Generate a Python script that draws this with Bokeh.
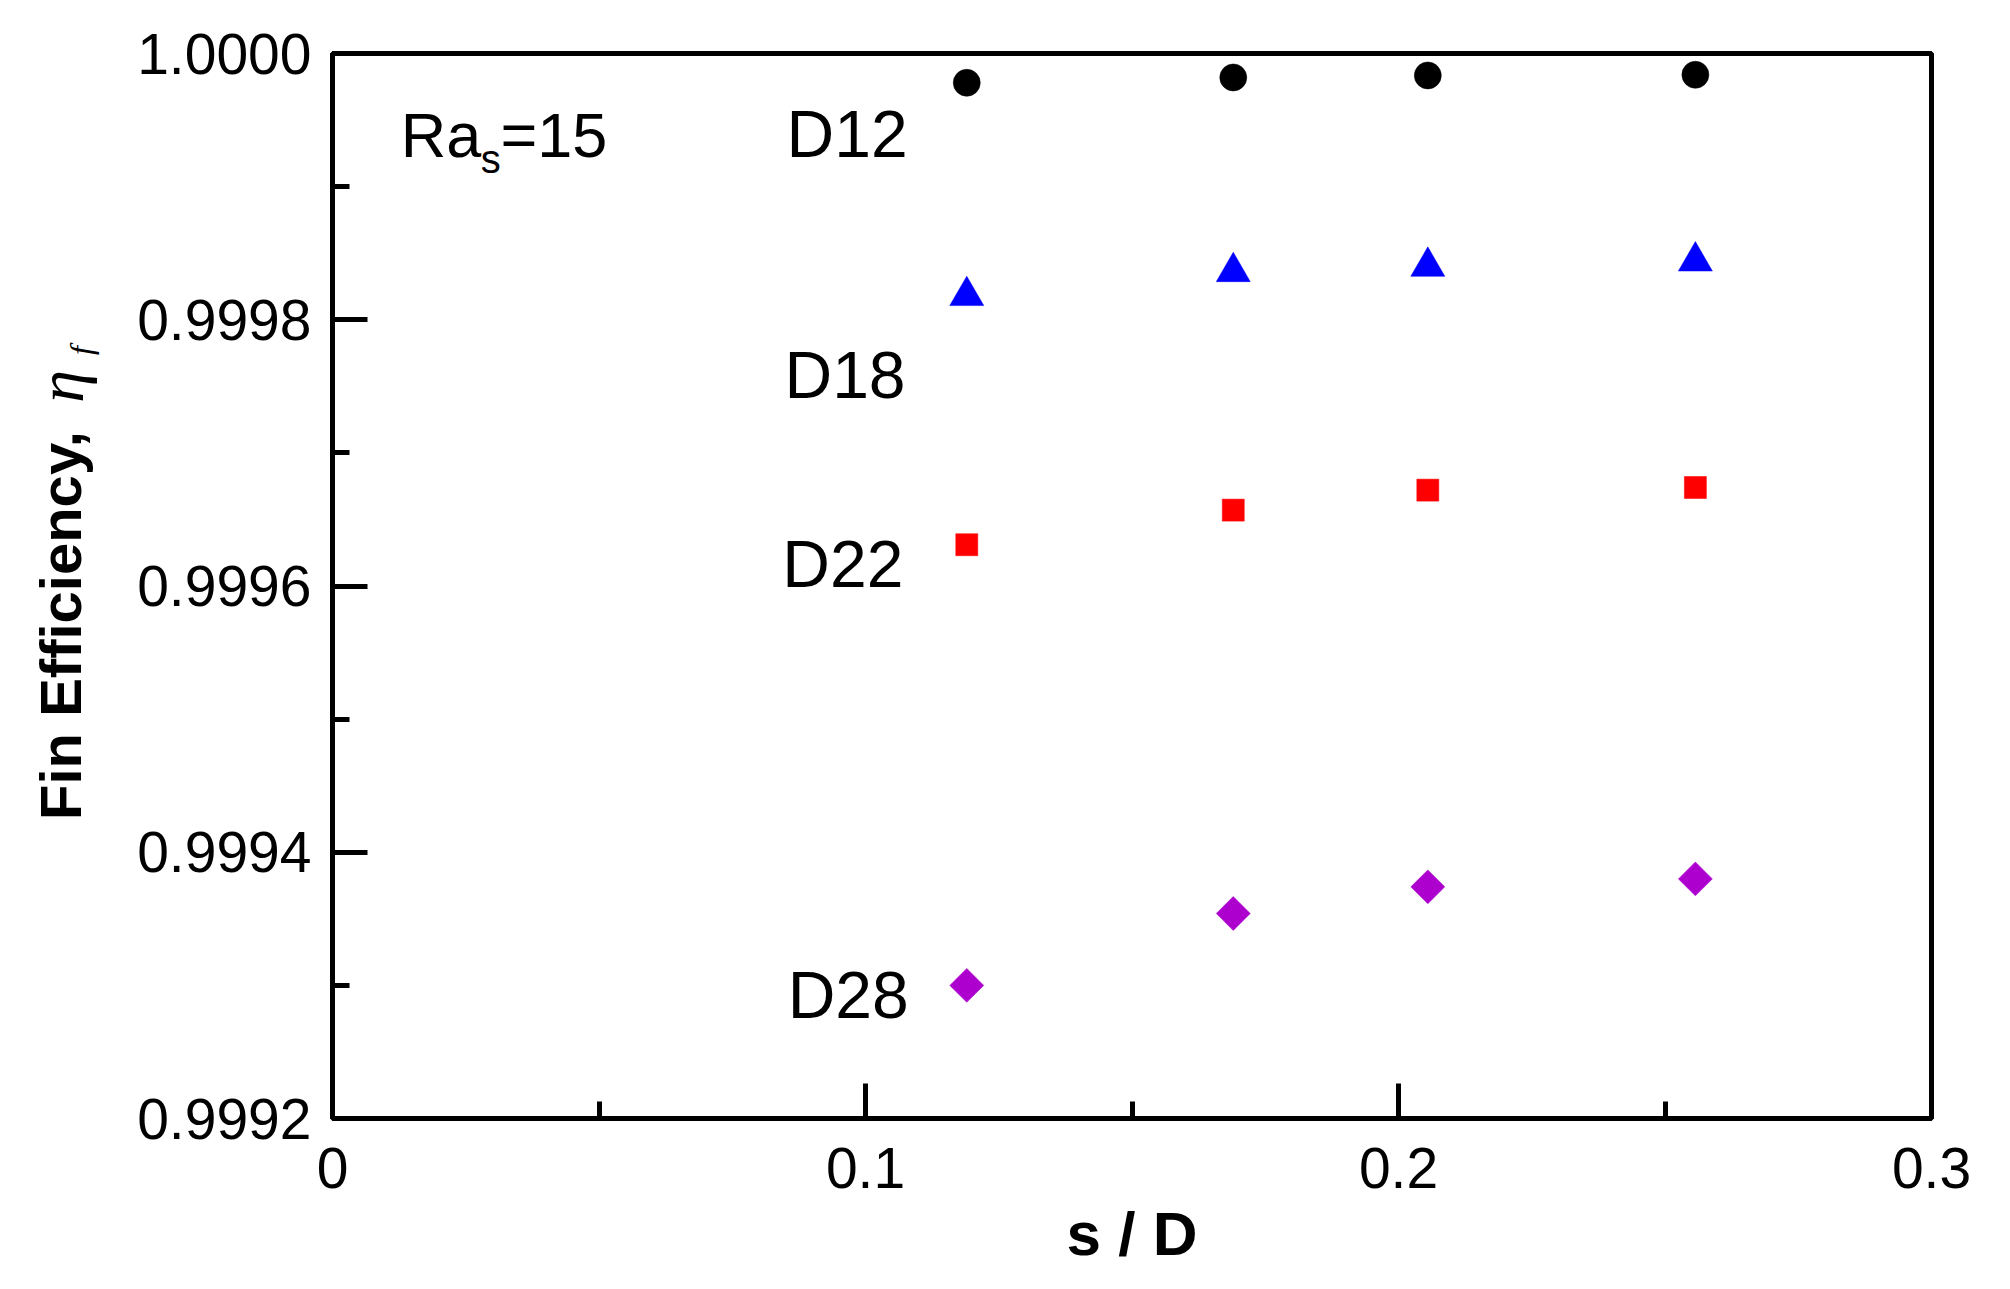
import math
from bokeh.plotting import figure
from bokeh.layouts import row
from bokeh.models import FixedTicker, Range1d
from bokeh.core.properties import value
from bokeh.embed import file_html
from bokeh.resources import INLINE

# ---- data ----
s_over_D = [0.119, 0.169, 0.2055, 0.2557]
series_names = ["D12", "D18", "D22", "D28"]
eta_D12 = [0.999978, 0.999982, 0.9999835, 0.999984]
eta_D18 = [0.999818, 0.999836, 0.999840, 0.999844]
eta_D22 = [0.999631, 0.999657, 0.999672, 0.999674]
eta_D28 = [0.999300, 0.999354, 0.999374, 0.999380]
x_ticks = [0.0, 0.1, 0.2, 0.3]
x_tick_labels = ["0", "0.1", "0.2", "0.3"]
y_ticks = [0.9992, 0.9994, 0.9996, 0.9998, 1.0]
y_tick_labels = ["0.9992", "0.9994", "0.9996", "0.9998", "1.0000"]
annotation_text = ["Ra", "s", "=15"]
x_title = "s / D"
y_title = ["Fin Efficiency,", "\u03b7", "f"]

SANS = "'Liberation Sans', Arial, Helvetica, sans-serif"
SERIF = "'Liberation Serif', 'Times New Roman', serif"

TITLE_W = 110
TOTAL_H = 1281
FRAME_TOP = 53
FRAME_H = 1065

# ---- main chart ----
p = figure(frame_width=1599, frame_height=FRAME_H,
           x_range=Range1d(x_ticks[0], x_ticks[-1]),
           y_range=Range1d(y_ticks[0], y_ticks[-1]),
           output_backend="svg", toolbar_location=None,
           min_border_left=332 - TITLE_W, min_border_top=FRAME_TOP,
           min_border_right=60, min_border_bottom=TOTAL_H - FRAME_TOP - FRAME_H,
           background_fill_color="white", border_fill_color="white")

p.xgrid.visible = False
p.ygrid.visible = False
p.outline_line_color = "black"
p.outline_line_width = 5
p.outline_line_alpha = 1.0

x_minor = [(a + b) / 2 for a, b in zip(x_ticks, x_ticks[1:])]
y_minor = [(a + b) / 2 for a, b in zip(y_ticks, y_ticks[1:])]
p.xaxis.ticker = FixedTicker(ticks=x_ticks, minor_ticks=x_minor)
p.yaxis.ticker = FixedTicker(ticks=y_ticks, minor_ticks=y_minor)
p.xaxis.major_label_overrides = dict(zip(x_ticks, x_tick_labels))
p.yaxis.major_label_overrides = dict(zip(y_ticks, y_tick_labels))

for ax in (p.xaxis, p.yaxis):
    ax.axis_line_width = 5
    ax.axis_line_color = "black"
    ax.major_tick_in = 35
    ax.major_tick_out = 0
    ax.minor_tick_in = 17
    ax.minor_tick_out = 0
    ax.major_tick_line_width = 5
    ax.minor_tick_line_width = 5
    ax.major_tick_line_color = "black"
    ax.minor_tick_line_color = "black"
    ax.major_label_text_font = SANS
    ax.major_label_text_font_size = "57px"
    ax.major_label_text_color = "black"

p.xaxis.major_label_standoff = 29
p.yaxis.major_label_standoff = 21

p.xaxis.axis_label = x_title
p.xaxis.axis_label_text_font = SANS
p.xaxis.axis_label_text_font_style = "bold"
p.xaxis.axis_label_text_font_size = "62px"
p.xaxis.axis_label_text_color = "black"
p.xaxis.axis_label_standoff = 8

# ---- markers ----
p.scatter(s_over_D, eta_D12, marker="circle", size=27,
          fill_color="black", line_color="black", line_width=0.5)
p.scatter(s_over_D, eta_D18, marker="triangle", size=34,
          fill_color="#0000ff", line_color="#0000ff", line_width=0.5)
p.scatter(s_over_D, eta_D22, marker="square", size=22,
          fill_color="#ff0000", line_color="#ff0000", line_width=0.5)
p.scatter(s_over_D, eta_D28, marker="square", size=24, angle=math.pi / 4,
          fill_color="#ad00cf", line_color="#ad00cf", line_width=0.5)

# ---- series labels (text glyphs inside the frame) ----
p.text(x=[0.0852, 0.0848, 0.0844, 0.0854],
       y=[0.9999395, 0.9997585, 0.9996165, 0.999293],
       text=series_names, text_font=value(SANS), text_font_size="66px",
       text_color="black", text_align="left", text_baseline="alphabetic")

# ---- Ra_s = 15 ----
p.text(x=[0.0128], y=[0.999939], text=[annotation_text[0]], text_font=value(SANS),
       text_font_size="63px", text_color="black", text_align="left", text_baseline="alphabetic")
p.text(x=[0.0278], y=[0.999921], text=[annotation_text[1]], text_font=value(SANS),
       text_font_size="40px", text_color="black", text_align="left", text_baseline="alphabetic")
p.text(x=[0.0315], y=[0.999939], text=[annotation_text[2]], text_font=value(SANS),
       text_font_size="63px", text_color="black", text_align="left", text_baseline="alphabetic")

# ---- y-axis title strip (rotated, composed text) ----
# its frame is aligned with the main frame by the row layout, so map its
# y-range to page pixels (measured from the top) over the same span
tf = figure(width=TITLE_W, height=TOTAL_H,
            x_range=Range1d(0, TITLE_W),
            y_range=Range1d(TOTAL_H - (FRAME_TOP + FRAME_H), TOTAL_H - FRAME_TOP),
            output_backend="svg", toolbar_location=None,
            x_axis_type=None, y_axis_type=None, min_border=0,
            outline_line_color=None,
            background_fill_color="white", border_fill_color="white")
tf.grid.visible = False
tf.text(x=[60], y=[TOTAL_H - 625], text=[y_title[0]], angle=math.pi / 2,
        text_font=value(SANS), text_font_style="bold", text_font_size="58px",
        text_color="black", text_align="center", text_baseline="middle")
tf.text(x=[60], y=[TOTAL_H - 386], text=[y_title[1]], angle=math.pi / 2,
        text_font=value(SERIF), text_font_style="italic", text_font_size="66px",
        text_color="black", text_align="center", text_baseline="middle")
tf.text(x=[80], y=[TOTAL_H - 350], text=[y_title[2]], angle=math.pi / 2,
        text_font=value(SERIF), text_font_style="italic", text_font_size="32px",
        text_color="black", text_align="center", text_baseline="middle")

layout = row(tf, p, spacing=0)
open("out.html", "w").write(file_html(layout, INLINE))
